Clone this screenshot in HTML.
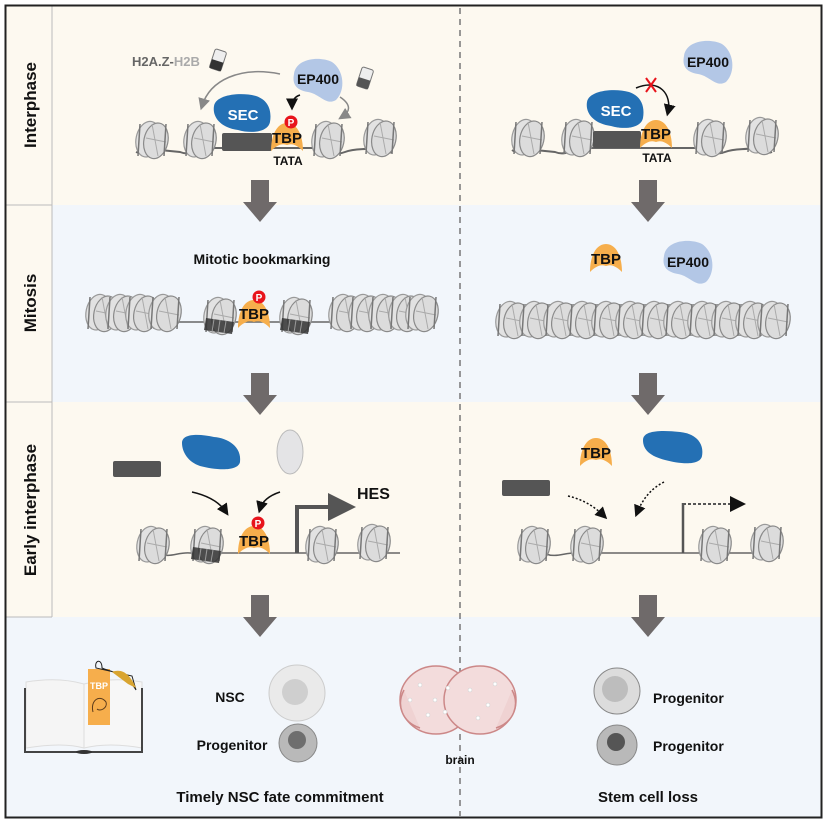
<!DOCTYPE html>
<html><head><meta charset="utf-8"><style>
body{margin:0;background:#fff}
svg{display:block;font-family:"Liberation Sans",Arial,sans-serif;font-weight:bold}
</style></head><body>
<svg width="826" height="823" viewBox="0 0 826 823" xmlns="http://www.w3.org/2000/svg">
<defs>
<g id="nuc">
 <ellipse cx="-4" cy="0" rx="12" ry="18" transform="rotate(12)" fill="#e2e2e2" stroke="#9a9a9a" stroke-width="1.2"/>
 <ellipse cx="4" cy="0" rx="12" ry="18" transform="rotate(12)" fill="#dcdcdc" stroke="#8a8a8a" stroke-width="1.2"/>
 <line x1="-6" y1="-2" x2="14" y2="2" stroke="#aaa"/>
 <line x1="0" y1="-16" x2="6" y2="16" stroke="#aaa"/>
 <path d="M-12,-16 L-14,16 M14,-16 L12,16" stroke="#777" stroke-width="1.5" fill="none"/>
</g>
<g id="nucd">
 <use href="#nuc"/>
 <path d="M-14,2 L14,6 L12,18 L-16,14 Z" fill="#333" opacity="0.85"/>
 <path d="M-6,3 L-8,16 M0,4 L-2,17 M6,5 L4,17" stroke="#999" stroke-width="1"/>
</g>
<path id="tbp" d="M-16,14 C-16,-2 -10,-14 0,-14 C10,-14 16,-2 16,14 C10,8 5,6 0,8 C-5,6 -10,8 -16,14 Z" fill="#f6ae4c"/>
<g id="pc"><circle r="6.5" fill="#e8141c"/><text y="4" text-anchor="middle" font-size="10" fill="#fff">P</text></g>
<path id="sec" d="M-28,-8 C-26,-20 0,-22 14,-18 C26,-14 30,-4 28,8 C26,18 10,20 -4,16 C-20,14 -30,4 -28,-8 Z" fill="#2470b4"/>
<path id="ep" d="M-24,-6 C-22,-22 2,-24 14,-18 C26,-10 28,10 18,20 C8,26 2,14 -10,12 C-22,10 -26,4 -24,-6 Z" fill="#b3c7e6"/>
<g id="down"><rect x="-9" y="0" width="18" height="22" fill="#6f6a6a"/><path d="M-17,22 L17,22 L0,42 Z" fill="#6f6a6a"/></g>
<marker id="ah" markerWidth="8" markerHeight="8" refX="5" refY="4" orient="auto"><path d="M0,0 L8,4 L0,8 Z" fill="#111"/></marker>
<marker id="ahg" markerWidth="8" markerHeight="8" refX="5" refY="4" orient="auto"><path d="M0,0 L8,4 L0,8 Z" fill="#888"/></marker>
</defs>
<!-- backgrounds -->
<rect x="5" y="5" width="817" height="200" fill="#fdf9f0"/>
<rect x="5" y="205" width="817" height="197" fill="#f2f6fb"/>
<rect x="5" y="402" width="817" height="215" fill="#fdf9f0"/>
<rect x="5" y="617" width="817" height="201" fill="#f2f6fb"/>
<rect x="5" y="5" width="47" height="612" fill="#fdf9f0"/>
<line x1="52" y1="5" x2="52" y2="617" stroke="#bbb"/>
<line x1="5" y1="205" x2="52" y2="205" stroke="#bbb"/>
<line x1="5" y1="402" x2="52" y2="402" stroke="#bbb"/>
<line x1="5" y1="617" x2="52" y2="617" stroke="#bbb"/>
<rect x="5.5" y="5.5" width="816" height="812" fill="none" stroke="#222" stroke-width="2"/>
<line x1="460" y1="8" x2="460" y2="816" stroke="#777" stroke-width="1.5" stroke-dasharray="6,5"/>
<text transform="translate(36,105) rotate(-90)" text-anchor="middle" font-size="17" fill="#111">Interphase</text>
<text transform="translate(36,303) rotate(-90)" text-anchor="middle" font-size="17" fill="#111">Mitosis</text>
<text transform="translate(36,510) rotate(-90)" text-anchor="middle" font-size="17" fill="#111">Early interphase</text>

<!-- Row 1 left -->
<path d="M136,152 C145,156 150,148 160,150 L180,152 C190,156 195,150 205,148 L320,148 C330,150 335,156 345,152 C355,148 365,150 372,148 C380,148 385,155 392,152" stroke="#666" stroke-width="2" fill="none"/>
<use href="#nuc" x="152" y="140"/><use href="#nuc" x="200" y="140"/>
<use href="#nuc" x="328" y="140"/><use href="#nuc" x="380" y="138"/>
<rect x="222" y="133" width="50" height="18" rx="2" fill="#555"/>
<use href="#sec" x="242" y="114"/>
<text x="243" y="120" text-anchor="middle" font-size="15" fill="#fff">SEC</text>
<use href="#tbp" x="287" y="137"/>
<text x="287" y="143" text-anchor="middle" font-size="15" fill="#111">TBP</text>
<use href="#pc" x="291" y="122"/>
<text x="288" y="165" text-anchor="middle" font-size="12" fill="#111">TATA</text>
<use href="#ep" x="318" y="80"/>
<text x="318" y="84" text-anchor="middle" font-size="14" fill="#111">EP400</text>
<text x="132" y="66" font-size="13" fill="#666">H2A.Z-<tspan fill="#aaa">H2B</tspan></text>
<g transform="translate(218,60) rotate(18)"><rect x="-6" y="-10" width="12" height="20" rx="2" fill="#eee" stroke="#777"/><rect x="-6" y="1" width="12" height="9" fill="#333"/></g>
<g transform="translate(365,78) rotate(18)"><rect x="-6" y="-10" width="12" height="20" rx="2" fill="#eee" stroke="#777"/><rect x="-6" y="1" width="12" height="9" fill="#555"/></g>
<path d="M280,74 C240,66 210,80 202,106" stroke="#888" stroke-width="1.5" fill="none" marker-end="url(#ahg)"/>
<path d="M340,97 C352,105 350,112 342,117" stroke="#888" stroke-width="1.5" fill="none" marker-end="url(#ahg)"/>
<path d="M300,95 C294,97 292,101 292,106" stroke="#111" stroke-width="1.5" fill="none" marker-end="url(#ah)"/>
<use href="#down" x="260" y="180"/>

<!-- Row 1 right -->
<path d="M512,150 C520,156 525,148 535,150 L555,152 C565,156 572,150 580,148 L700,148 C710,150 715,156 725,152 C735,148 745,150 752,148 C760,148 765,155 772,152" stroke="#666" stroke-width="2" fill="none"/>
<use href="#nuc" x="528" y="138"/><use href="#nuc" x="578" y="138"/>
<use href="#nuc" x="710" y="138"/><use href="#nuc" x="762" y="136"/>
<rect x="593" y="131" width="48" height="17" rx="2" fill="#555"/>
<use href="#sec" x="615" y="110"/>
<text x="616" y="116" text-anchor="middle" font-size="15" fill="#fff">SEC</text>
<use href="#tbp" x="656" y="134"/>
<text x="656" y="139" text-anchor="middle" font-size="15" fill="#111">TBP</text>
<text x="657" y="162" text-anchor="middle" font-size="12" fill="#111">TATA</text>
<use href="#ep" x="708" y="62"/>
<text x="708" y="67" text-anchor="middle" font-size="14" fill="#111">EP400</text>
<path d="M636,88 C660,78 672,95 668,112" stroke="#111" stroke-width="1.5" fill="none" marker-end="url(#ah)"/>
<path d="M646,78 L656,92 M656,78 L646,92" stroke="#e8141c" stroke-width="2"/>
<use href="#down" x="648" y="180"/>

<!-- Row 2 left -->
<text x="262" y="264" text-anchor="middle" font-size="14" fill="#111">Mitotic bookmarking</text>
<path d="M88,322 L430,322" stroke="#666" stroke-width="1.5"/>
<g><use href="#nuc" x="102" y="313"/><use href="#nuc" x="122" y="313"/><use href="#nuc" x="142" y="313"/><use href="#nuc" x="165" y="313"/></g>
<use href="#nucd" x="220" y="316"/>
<use href="#tbp" x="254" y="314"/>
<text x="254" y="319" text-anchor="middle" font-size="15" fill="#111">TBP</text>
<use href="#pc" x="259" y="297"/>
<use href="#nucd" x="296" y="316"/>
<g><use href="#nuc" x="345" y="313"/><use href="#nuc" x="365" y="313"/><use href="#nuc" x="385" y="313"/><use href="#nuc" x="405" y="313"/><use href="#nuc" x="422" y="313"/></g>
<use href="#down" x="260" y="373"/>
<!-- Row 2 right -->
<use href="#tbp" x="606" y="258"/>
<text x="606" y="264" text-anchor="middle" font-size="15" fill="#111">TBP</text>
<use href="#ep" x="688" y="262"/>
<text x="688" y="267" text-anchor="middle" font-size="14" fill="#111">EP400</text>
<path d="M500,333 L783,333" stroke="#666" stroke-width="1.5"/>
<g><use href="#nuc" x="512" y="320"/><use href="#nuc" x="536" y="320"/><use href="#nuc" x="560" y="320"/><use href="#nuc" x="584" y="320"/><use href="#nuc" x="608" y="320"/><use href="#nuc" x="632" y="320"/><use href="#nuc" x="656" y="320"/><use href="#nuc" x="680" y="320"/><use href="#nuc" x="704" y="320"/><use href="#nuc" x="728" y="320"/><use href="#nuc" x="752" y="320"/><use href="#nuc" x="774" y="320"/></g>
<use href="#down" x="648" y="373"/>

<!-- Row 3 left -->
<rect x="113" y="461" width="48" height="16" rx="2" fill="#555"/>
<path d="M182,443 C182,433 200,434 214,437 C228,438 242,447 240,462 C238,472 215,470 200,466 C188,462 182,452 182,443 Z" fill="#2470b4"/>
<ellipse cx="290" cy="452" rx="13" ry="22" fill="#e4e4e6" stroke="#bbb"/>
<path d="M192,492 C210,496 220,503 226,512" stroke="#111" stroke-width="1.5" fill="none" marker-end="url(#ah)"/>
<path d="M280,492 C268,496 262,502 260,509" stroke="#111" stroke-width="1.5" fill="none" marker-end="url(#ah)"/>
<path d="M140,556 C148,558 152,552 160,554 C170,558 178,552 190,553 L400,553" stroke="#666" stroke-width="1.5" fill="none"/>
<use href="#nuc" x="153" y="545"/><use href="#nucd" x="207" y="545"/>
<use href="#nuc" x="322" y="545"/><use href="#nuc" x="374" y="543"/>
<use href="#tbp" x="254" y="540"/>
<text x="254" y="546" text-anchor="middle" font-size="15" fill="#111">TBP</text>
<use href="#pc" x="258" y="523"/>
<path d="M297,553 L297,507 L330,507" stroke="#555" stroke-width="4" fill="none"/>
<path d="M328,493 L356,507 L328,521 Z" fill="#555"/>
<text x="357" y="499" font-size="16" fill="#111">HES</text>
<use href="#down" x="260" y="595"/>
<!-- Row 3 right -->
<rect x="502" y="480" width="48" height="16" rx="2" fill="#555"/>
<use href="#tbp" x="596" y="452"/>
<text x="596" y="458" text-anchor="middle" font-size="15" fill="#111">TBP</text>
<path d="M643,440 C643,430 662,430 680,432 C698,434 704,445 702,456 C700,466 680,464 665,460 C650,456 643,450 643,440 Z" fill="#2470b4"/>
<path d="M568,496 C585,500 596,508 604,516" stroke="#111" stroke-width="1.5" stroke-dasharray="2,2" fill="none" marker-end="url(#ah)"/>
<path d="M664,482 C652,488 643,498 637,513" stroke="#111" stroke-width="1.5" stroke-dasharray="2,2" fill="none" marker-end="url(#ah)"/>
<path d="M524,556 C530,558 536,552 546,554 C556,558 566,552 578,553 L780,553" stroke="#666" stroke-width="1.5" fill="none"/>
<use href="#nuc" x="534" y="545"/><use href="#nuc" x="587" y="545"/>
<use href="#nuc" x="715" y="545"/><use href="#nuc" x="767" y="543"/>
<line x1="683" y1="553" x2="683" y2="503" stroke="#555" stroke-width="2.5"/>
<path d="M683,504 L740,504" stroke="#555" stroke-width="2" stroke-dasharray="3,2" marker-end="url(#ah)"/>
<use href="#down" x="648" y="595"/>

<!-- Row 4 left : book -->
<path d="M26,682 C50,678 70,680 84,684 L84,748 C70,744 50,744 26,748 Z" fill="#f5f5f5" stroke="#ddd"/>
<path d="M84,684 C100,680 120,678 142,682 L142,748 C120,744 100,744 84,748 Z" fill="#f7f7f7" stroke="#ddd"/>
<path d="M25,688 L25,752 L142,752 L142,688" stroke="#444" stroke-width="2" fill="none"/>
<ellipse cx="84" cy="752" rx="8" ry="2" fill="#333"/>
<rect x="88" y="669" width="22" height="56" fill="#f6ae4c"/>
<text x="99" y="689" text-anchor="middle" font-size="9" fill="#fff">TBP</text>
<path d="M93,712 C90,700 100,694 106,702 C108,708 100,712 97,709" stroke="#5a3a1a" fill="none"/>
<path d="M96,668 C94,660 102,658 102,668 C110,672 125,672 136,690 L132,676 Z" fill="none" stroke="#222"/>
<path d="M112,672 C122,668 130,674 136,688 L128,684 Z" fill="#d9a531"/>
<text x="230" y="702" text-anchor="middle" font-size="14" fill="#111">NSC</text>
<circle cx="297" cy="693" r="28" fill="#eaeaea" stroke="#ccc"/>
<circle cx="295" cy="692" r="13" fill="#cfcfcf"/>
<text x="232" y="750" text-anchor="middle" font-size="14" fill="#111">Progenitor</text>
<circle cx="298" cy="743" r="19" fill="#b9b9b9" stroke="#888"/>
<circle cx="297" cy="740" r="9" fill="#6e6e6e"/>
<!-- brain -->
<g>
<ellipse cx="436" cy="700" rx="36" ry="34" fill="#f3dcdc" stroke="#c88" stroke-width="1.5"/>
<ellipse cx="480" cy="700" rx="36" ry="34" fill="#f3dcdc" stroke="#c88" stroke-width="1.5"/>
<path d="M404,690 C396,705 402,722 420,728 M512,690 C520,705 514,722 496,728" stroke="#c88" stroke-width="1.5" fill="#efd2d2"/>
<g fill="#fff" stroke="#ccc" stroke-width="0.5"><circle cx="420" cy="685" r="2"/><circle cx="435" cy="700" r="2"/><circle cx="448" cy="688" r="2"/><circle cx="428" cy="715" r="2"/><circle cx="470" cy="690" r="2"/><circle cx="488" cy="705" r="2"/><circle cx="478" cy="718" r="2"/><circle cx="495" cy="684" r="2"/><circle cx="445" cy="712" r="2"/><circle cx="410" cy="700" r="2"/></g>
</g>
<text x="460" y="764" text-anchor="middle" font-size="12" fill="#111">brain</text>
<text x="280" y="802" text-anchor="middle" font-size="15" fill="#111">Timely NSC fate commitment</text>
<!-- Row 4 right -->
<circle cx="617" cy="691" r="23" fill="#dcdcdc" stroke="#888"/>
<circle cx="615" cy="689" r="13" fill="#bdbdbd"/>
<text x="653" y="703" font-size="14" fill="#111">Progenitor</text>
<circle cx="617" cy="745" r="20" fill="#b9b9b9" stroke="#888"/>
<circle cx="616" cy="742" r="9" fill="#555"/>
<text x="653" y="751" font-size="14" fill="#111">Progenitor</text>
<text x="648" y="802" text-anchor="middle" font-size="15" fill="#111">Stem cell loss</text>
</svg>
</body></html>
